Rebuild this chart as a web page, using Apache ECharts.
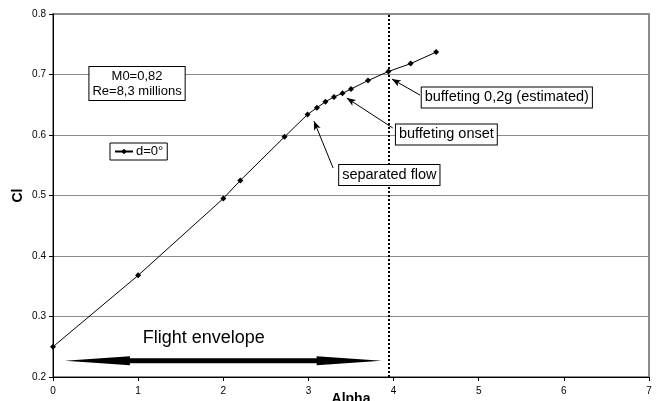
<!DOCTYPE html>
<html>
<head>
<meta charset="utf-8">
<script src="https://cdn.jsdelivr.net/npm/echarts@6/dist/echarts.min.js"></script>
<style>html,body{margin:0;padding:0;background:#fff;}#c{width:656px;height:401px;}</style>
</head>
<body>
<div id="c"></div>
<script>
// ---- data ----
var alpha = [0, 1, 2, 2.2, 2.72, 2.99, 3.1, 3.2, 3.3, 3.4, 3.5, 3.7, 3.94, 4.2, 4.5];
var cl    = [0.25, 0.368, 0.495, 0.525, 0.597, 0.634, 0.645, 0.655, 0.663, 0.669, 0.676, 0.690, 0.705, 0.718, 0.737];
var seriesName = 'd=0°';
var xTicks = [0, 1, 2, 3, 4, 5, 6, 7];
var yTicks = [0.2, 0.3, 0.4, 0.5, 0.6, 0.7, 0.8];
var buffetLimitAlpha = 3.94;
// annotations (data coordinates)
var infoText = ['M0=0,82', 'Re=8,3 millions'];
var infoPos = [0.987, 0.685];
var annotTexts = ['buffeting 0,2g (estimated)', 'buffeting onset', 'separated flow'];
var annotBoxPos = [[5.33, 0.662], [4.62, 0.601], [3.95, 0.534]];
var annotArrowFrom = [[4.31, 0.666], [3.99, 0.6116], [3.29, 0.5455]];
var annotArrowTo = [[3.98, 0.6926], [3.45, 0.6612], [3.065, 0.623]];
var envelopeText = 'Flight envelope';
var envelopeTextPos = [1.77, 0.264];
var envelopeFrom = [0.14, 0.227];
var envelopeTo = [3.86, 0.227];

var chart = echarts.init(document.getElementById('c'));
var FONT = 'Liberation Sans, Arial, sans-serif';
var pts = alpha.map(function (a, i) { return [a, cl[i]]; });

chart.setOption({
  animation: false,
  backgroundColor: '#fff',
  grid: { left: 53, right: 7, top: 14, bottom: 24, show: true, borderColor: '#666', borderWidth: 1.5,
    containLabel: false, outerBoundsMode: 'none' },
  xAxis: {
    type: 'value', min: xTicks[0], max: xTicks[xTicks.length - 1], interval: 1,
    name: 'Alpha', nameLocation: 'middle', nameGap: 15, nameMoveOverlap: false,
    nameTextStyle: { fontFamily: FONT, fontSize: 14, fontWeight: 'bold', color: '#000' },
    axisLine: { lineStyle: { color: '#000', width: 1 } },
    axisTick: { show: true, length: 4, lineStyle: { color: '#000' } },
    axisLabel: { fontFamily: FONT, fontSize: 10, color: '#000', margin: 9 },
    splitLine: { show: false }
  },
  yAxis: {
    type: 'value', min: yTicks[0], max: yTicks[yTicks.length - 1], interval: 0.1,
    name: 'Cl', nameLocation: 'middle', nameGap: 28, nameMoveOverlap: false,
    nameTextStyle: { fontFamily: FONT, fontSize: 14, fontWeight: 'bold', color: '#000' },
    axisLine: { show: true, lineStyle: { color: '#000', width: 1 } },
    axisTick: { show: true, length: 4, lineStyle: { color: '#000' } },
    axisLabel: { fontFamily: FONT, fontSize: 10, color: '#000', margin: 7,
      formatter: function (v) { return v.toFixed(1); } },
    splitLine: { show: true, lineStyle: { color: '#8c8c8c', width: 1 } }
  },
  legend: {
    data: [seriesName], left: 110, top: 143, orient: 'horizontal',
    backgroundColor: '#fff', borderColor: '#000', borderWidth: 1,
    padding: [2, 4, 2, 4], itemWidth: 18, itemHeight: 7, itemGap: 4,
    textStyle: { fontFamily: FONT, fontSize: 13, color: '#000', padding: [0, 0, 0, -2] }
  },
  series: [{
    name: seriesName, type: 'line', data: pts,
    symbol: 'diamond', symbolSize: 6, showSymbol: true,
    lineStyle: { color: '#000', width: 1 },
    itemStyle: { color: '#000' },
    z: 3,
    markLine: {
      silent: true, symbol: 'none', label: { show: false },
      lineStyle: { color: '#000', type: [2, 2], width: 2 },
      data: [{ xAxis: buffetLimitAlpha }]
    }
  }]
});

function P(p) { return chart.convertToPixel({ gridIndex: 0 }, p); }

function arrowHead(tip, from, len, halfW) {
  var dx = tip[0] - from[0], dy = tip[1] - from[1];
  var L = Math.sqrt(dx * dx + dy * dy); dx /= L; dy /= L;
  var bx = tip[0] - dx * len, by = tip[1] - dy * len;
  var nx = -dy, ny = dx;
  return [tip, [bx + nx * halfW, by + ny * halfW], [tip[0] - dx * len * 0.75, tip[1] - dy * len * 0.75], [bx - nx * halfW, by - ny * halfW]];
}

var g = [];
// info box
var ip = P(infoPos);
g.push({
  type: 'text', x: ip[0], y: ip[1], z: 10,
  style: { text: infoText.join('\n'), font: '13px ' + FONT, fill: '#000', align: 'center', verticalAlign: 'middle',
    backgroundColor: '#fff', borderColor: '#000', borderWidth: 1, padding: [2, 3, 1, 3], lineHeight: 15 }
});
// annotations
for (var i = 0; i < annotTexts.length; i++) {
  var a = P(annotArrowFrom[i]), b = P(annotArrowTo[i]);
  g.push({ type: 'line', z: 9, shape: { x1: a[0], y1: a[1], x2: b[0], y2: b[1] }, style: { stroke: '#000', lineWidth: 1 } });
  g.push({ type: 'polygon', z: 9, shape: { points: arrowHead(b, a, 9, 3.5) }, style: { fill: '#000' } });
  var bp = P(annotBoxPos[i]);
  g.push({
    type: 'text', x: bp[0], y: bp[1], z: 10,
    style: { text: annotTexts[i], font: '14.5px ' + FONT, fill: '#000', align: 'center', verticalAlign: 'middle',
      backgroundColor: '#fff', borderColor: '#000', borderWidth: 1, padding: [3, 3, 2, 3] }
  });
}
// flight envelope
var ep = P(envelopeTextPos);
g.push({ type: 'text', x: ep[0], y: ep[1], z: 10,
  style: { text: envelopeText, font: '18px ' + FONT, fill: '#000', align: 'center', verticalAlign: 'middle' } });
var l = P(envelopeFrom), r = P(envelopeTo);
var y = l[1], hl = 65, hw = 4.5, sw = 2.5;
g.push({ type: 'polygon', z: 9, shape: { points: [
  [l[0], y], [l[0] + hl, y - hw], [l[0] + hl, y - sw], [r[0] - hl, y - sw], [r[0] - hl, y - hw], [r[0], y],
  [r[0] - hl, y + hw], [r[0] - hl, y + sw], [l[0] + hl, y + sw], [l[0] + hl, y + hw]] }, style: { fill: '#000' } });

chart.setOption({ graphic: g });
</script>
</body>
</html>
